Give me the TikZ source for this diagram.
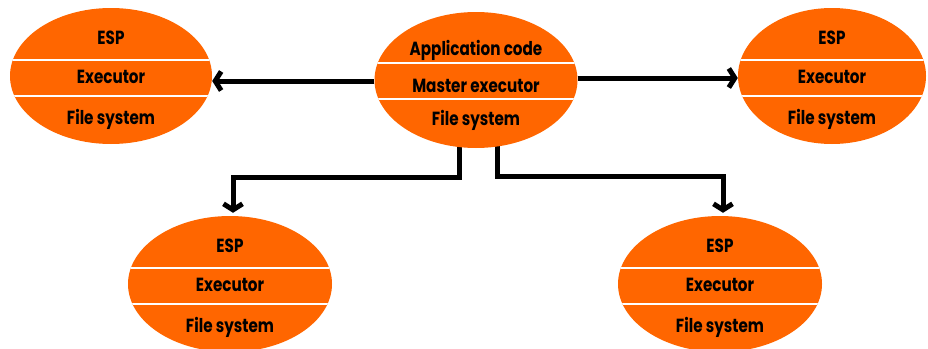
\documentclass[tikz,border=0pt]{standalone}
\usepackage{fontspec}
\setmainfont{Poppins}[FakeStretch=0.8]
\usetikzlibrary{shapes.geometric,arrows.meta}
\definecolor{disk}{RGB}{255,102,0}
\pgfdeclarelayer{bg}
\pgfsetlayers{bg,main}
\tikzset{
  x=1pt, y=-1pt,
  % orange ellipse split into three bands by two white rules
  store/.style 2 args={ellipse, fill=disk, inner sep=0pt,
    minimum height=136pt,
    path picture={
      \draw[white, line width=2pt]
        ([yshift=#1]path picture bounding box.west) -- ([yshift=#1]path picture bounding box.east)
        ([yshift=#2]path picture bounding box.west) -- ([yshift=#2]path picture bounding box.east);
    }},
  lbl/.style={font=\bfseries\fontsize{19}{21}\selectfont, inner sep=0pt,
    text height=13pt, text depth=3pt},
  link/.style={line width=5pt, -{Straight Barb[length=6pt,width=19pt]}}
}
% worker node: name, x, y, width
\newcommand\espnode[4]{%
  \node[store={16pt}{-20pt}, minimum width=#4] (#1) at (#2,#3) {};
  \node[lbl] (#1-a) at ([yshift=37pt]#1.center) {ESP};
  \node[lbl] (#1-b) at ([yshift=-2pt]#1.center) {Executor};
  \node[lbl] (#1-c) at ([yshift=-43pt]#1.center) {File system};
}
\begin{document}
\begin{tikzpicture}
\useasboundingbox (0,0) rectangle (928,348);

% master node
\node[store={17pt}{-19pt}, minimum width=203pt] (m) at (476,80) {};
\node[lbl] (m-a) at ([yshift=30pt]m.center) {Application code};
\node[lbl] (m-b) at ([yshift=-7pt]m.center) {Master executor};
\node[lbl] (m-c) at ([yshift=-40pt]m.center) {File system};

% worker nodes
\espnode{wl}{111}{76}{202pt}
\espnode{wr}{832}{76}{188pt}
\espnode{bl}{230}{284}{204pt}
\espnode{br}{720}{284}{204pt}

% connectors
\draw[link] ([yshift=-1pt]m.west) -- ([yshift=-1pt]m.west -| wl.east);
\draw[link] ([yshift=2pt]m.east) -- ([yshift=2pt]m.east -| wr.west);
\coordinate (pl) at ([xshift=-17pt]m.center);
\coordinate (pr) at ([xshift=21pt]m.center);
\coordinate (kl) at (0,177);
\coordinate (kr) at (0,176);
\begin{pgfonlayer}{bg}
  \draw[link] (pl) -- (pl |- kl) -| ([xshift=3pt,yshift=3pt]bl.north);
  \draw[link] (pr) -- (pr |- kr) -| ([xshift=3pt,yshift=3pt]br.north);
\end{pgfonlayer}
\end{tikzpicture}
\end{document}
